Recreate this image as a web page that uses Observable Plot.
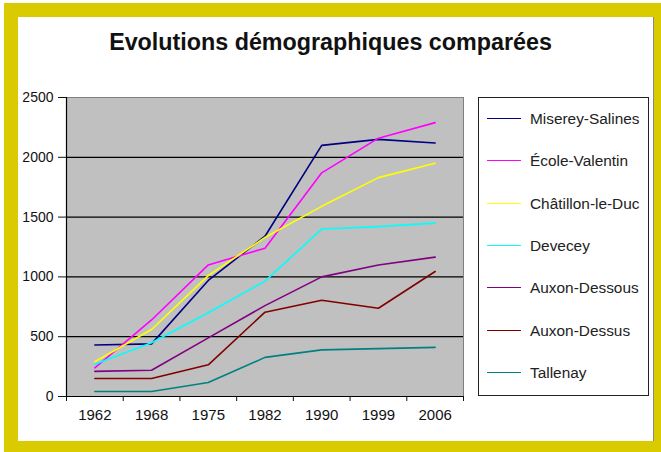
<!DOCTYPE html>
<html>
<head>
<meta charset="utf-8">
<script src="https://cdn.jsdelivr.net/npm/d3@7"></script>
<script src="https://cdn.jsdelivr.net/npm/@observablehq/plot@0.6"></script>
<style>
  html, body { margin: 0; padding: 0; background: #fff; }
  #wrap { position: relative; width: 661px; height: 452px; overflow: hidden; font-family: Arial, "Liberation Sans", sans-serif; }
  #yellow { position: absolute; left: 4px; top: 3px; right: 0; bottom: 0; background: #dacb00; }
  #panel { position: absolute; left: 18px; top: 17px; width: 635px; height: 424px; background: #fff; border-right: 1px solid #888; }
  #chart { position: absolute; left: 0; top: 0; }
  #title { position: absolute; left: 0; top: 29px; width: 661px; text-align: center; font-weight: bold; font-size: 23.3px; color: #111; }
  #legend { position: absolute; left: 478px; top: 97px; width: 169px; height: 297px; border: 1.5px solid #222; background: #fff; }
  .item { position: absolute; left: 0; height: 20px; width: 169px; }
  .swatch { position: absolute; left: 8px; top: 9px; width: 34px; height: 0; border-top: 1.6px solid; }
  .lab { position: absolute; left: 51px; top: 1px; font-size: 15.4px; color: #222; white-space: nowrap; }
</style>
</head>
<body>
<div id="wrap">
  <div id="yellow"></div>
  <div id="panel"></div>
  <div id="chart"></div>
  <div id="title">Evolutions démographiques comparées</div>
  <div id="legend"></div>
</div>
<script>
const years = ["1962", "1968", "1975", "1982", "1990", "1999", "2006"];
const names = ["Miserey-Salines", "École-Valentin", "Châtillon-le-Duc", "Devecey", "Auxon-Dessous", "Auxon-Dessus", "Tallenay"];
const colors = ["#000080", "#ff00ff", "#ffff00", "#00ffff", "#800080", "#800000", "#008080"];
const miserey = [430, 440, 970, 1340, 2100, 2150, 2120];
const ecole = [240, 640, 1100, 1240, 1870, 2160, 2290];
const chatillon = [290, 560, 1010, 1330, 1590, 1830, 1950];
const devecey = [270, 450, 700, 965, 1400, 1420, 1450];
const auxonDessous = [210, 220, 490, 760, 1000, 1100, 1165];
const auxonDessus = [150, 150, 265, 705, 805, 738, 1045];
const tallenay = [42, 42, 117, 327, 390, 400, 411];
const yTicks = [0, 500, 1000, 1500, 2000, 2500];

const seriesValues = [miserey, ecole, chatillon, devecey, auxonDessous, auxonDessus, tallenay];
const data = seriesValues.flatMap((vals, s) => vals.map((v, i) => ({name: names[s], i, value: v})));
const boundaries = d3.range(years.length + 1).map(k => k - 0.5);

const chart = Plot.plot({
  width: 661,
  height: 452,
  marginLeft: 66,
  marginRight: 198,
  marginTop: 97,
  marginBottom: 56,
  style: {background: "transparent", fontFamily: "Arial, 'Liberation Sans', sans-serif", color: "#111"},
  x: {domain: [-0.5, years.length - 0.5]},
  y: {domain: [0, 2500]},
  color: {domain: names, range: colors},
  marks: [
    Plot.frame({fill: "#c0c0c0", stroke: "#808080"}),
    Plot.ruleY(yTicks.filter(d => d > 0 && d < 2500), {stroke: "#000", strokeWidth: 1.3}),
    Plot.line(data, {x: "i", y: "value", z: "name", stroke: "name", strokeWidth: 1.6}),
    Plot.ruleX([-0.5], {stroke: "#000", strokeWidth: 1.2}),
    Plot.ruleY([0], {stroke: "#000", strokeWidth: 1.2}),
    Plot.axisY({ticks: yTicks, tickSize: 8, tickPadding: 5, tickFormat: d => String(d), fontSize: 14, label: null}),
    Plot.axisX({ticks: boundaries, tickSize: 5, tickFormat: () => "", label: null}),
    Plot.axisX({ticks: d3.range(years.length), tickSize: 0, tickPadding: 13, tickFormat: i => years[i], fontSize: 15, label: null})
  ]
});
document.getElementById("chart").appendChild(chart);

const legend = document.getElementById("legend");
names.forEach((n, k) => {
  const item = document.createElement("div");
  item.className = "item";
  item.style.top = (11 + k * 42.3) + "px";
  const sw = document.createElement("div");
  sw.className = "swatch";
  sw.style.borderTopColor = colors[k];
  const lab = document.createElement("div");
  lab.className = "lab";
  lab.textContent = n;
  item.appendChild(sw);
  item.appendChild(lab);
  legend.appendChild(item);
});
</script>
</body>
</html>
